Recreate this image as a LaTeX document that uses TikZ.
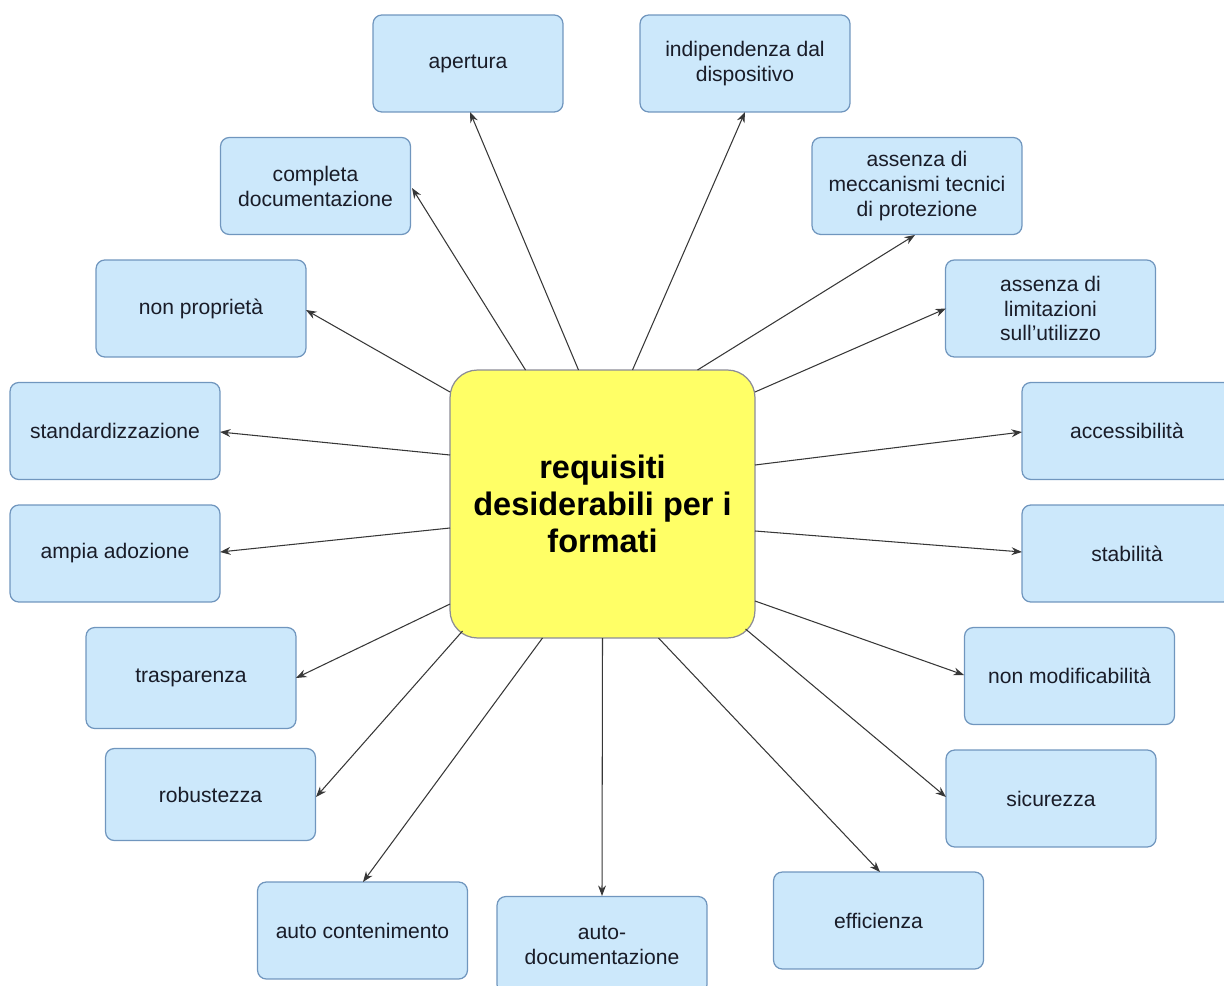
\documentclass[tikz,border=0pt]{standalone}
\usepackage{fontspec}
\setmainfont{Liberation Sans}
\usetikzlibrary{calc,arrows.meta}
\definecolor{boxfill}{RGB}{204,232,251}
\definecolor{boxline}{RGB}{112,150,190}
\definecolor{centerfill}{RGB}{255,255,102}
\definecolor{centerline}{RGB}{140,140,150}
\definecolor{txt}{RGB}{25,28,40}
\definecolor{arrcol}{RGB}{55,55,55}
\tikzset{
  reqbox/.style={draw=boxline, line width=0.7pt, fill=boxfill, rounded corners=5pt,
    minimum width=4.2cm, minimum height=1.94cm, align=center, text=txt,
    font=\fontsize{12}{14.2}\selectfont, inner sep=2pt},
  narrowbox/.style={reqbox, minimum width=3.8cm},
  centerbox/.style={draw=centerline, line width=0.7pt, fill=centerfill, rounded corners=0.55cm,
    minimum width=6.1cm, minimum height=5.36cm, align=center, text=black,
    font=\fontsize{18.5}{21}\selectfont\bfseries},
  arr/.style={draw=arrcol, line width=0.6pt, -{Stealth[length=6pt,width=4.5pt]}}
}
\begin{document}
\begin{tikzpicture}[x=0.02cm,y=-0.02cm]
\useasboundingbox (0,0) rectangle (1224,986);
\node[centerbox] (c) at (602.5,504) {requisiti\\desiderabili per i\\formati};
\node[narrowbox] (ap) at (468,63.5) {apertura};
\node[reqbox] (ind) at (745,63.5) {indipendenza dal\\dispositivo};
\node[narrowbox] (comp) at (315.5,186) {completa\\documentazione};
\node[reqbox] (mecc) at (917,186) {assenza di\\meccanismi tecnici\\di protezione};
\node[reqbox] (nonp) at (201,308.5) {non proprietà};
\node[reqbox] (lim) at (1050.5,308.5) {assenza di\\limitazioni\\sull’utilizzo};
\node[reqbox] (std) at (115,431) {standardizzazione};
\node[reqbox] (acc) at (1127,431) {accessibilità};
\node[reqbox] (amp) at (115,553.5) {ampia adozione};
\node[reqbox] (stab) at (1127,553.5) {stabilità};
\node[reqbox, minimum height=2.02cm] (tras) at (191,678) {trasparenza};
\node[reqbox] (nmod) at (1069.5,676) {non modificabilità};
\node[reqbox, minimum height=1.84cm] (rob) at (210.5,794.5) {robustezza};
\node[reqbox] (sic) at (1051,798.5) {sicurezza};
\node[reqbox] (autoc) at (362.5,930.5) {auto contenimento};
\node[reqbox] (autod) at (602,945) {auto-\\documentazione};
\node[reqbox] (eff) at (878.5,920.5) {efficienza};
\draw[arr] ($(c)+(-24,-134)$) -- ($(ap)+(2,48.5)$);
\draw[arr] ($(c)+(30,-134)$) -- ($(ind)+(0,48.5)$);
\draw[arr] ($(c)+(-77,-134)$) -- ($(comp)+(96.5,2)$);
\draw[arr] ($(c)+(95,-134)$) -- ($(mecc)+(-2,49)$);
\draw[arr] ($(c)+(-152.5,-112)$) -- ($(nonp)+(105,1.5)$);
\draw[arr] ($(c)+(152.5,-112)$) -- ($(lim)+(-104.5,0)$);
\draw[arr] ($(c)+(-152.5,-49)$) -- ($(std)+(105,1)$);
\draw[arr] ($(c)+(152.5,-39)$) -- ($(acc)+(-105,1)$);
\draw[arr] ($(c)+(-152.5,24)$) -- ($(amp)+(105,-1.5)$);
\draw[arr] ($(c)+(152.5,27)$) -- ($(stab)+(-105,-1.5)$);
\draw[arr] ($(c)+(-152.5,100)$) -- ($(tras)+(105,0)$);
\draw[arr] ($(c)+(152.5,97)$) -- ($(nmod)+(-105.5,-1)$);
\draw[arr] ($(c)+(-140,127)$) -- ($(rob)+(105.5,2.5)$);
\draw[arr] ($(c)+(143,125)$) -- ($(sic)+(-105,-1.5)$);
\draw[arr] ($(c)+(-60,134)$) -- ($(autoc)+(0.5,-48.5)$);
\draw[arr] ($(c)+(0,134)$) -- ($(autod)+(0,-49)$);
\draw[arr] ($(c)+(56,134)$) -- ($(eff)+(1.5,-48.5)$);
\end{tikzpicture}
\end{document}
